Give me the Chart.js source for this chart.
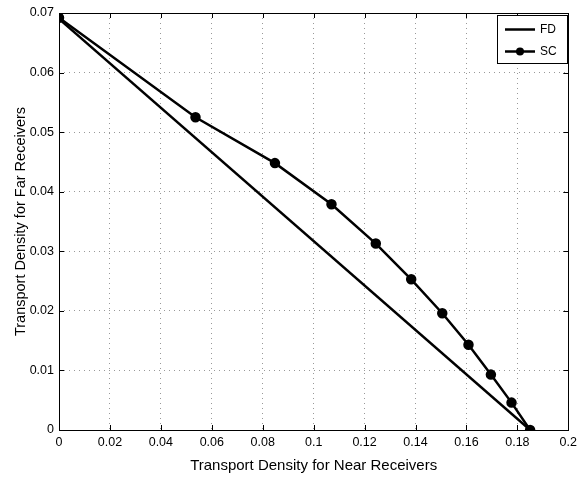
<!DOCTYPE html>
<html>
<head>
<meta charset="utf-8">
<script src="https://cdn.jsdelivr.net/npm/chart.js@4.4.1/dist/chart.umd.min.js"></script>
<style>
html,body{margin:0;padding:0;background:#fff;}
#wrap{width:582px;height:477px;}
</style>
</head>
<body>
<div id="wrap"><canvas id="c" width="582" height="477"></canvas></div>
<script>
const fdX = [0, 0.185];
const fdY = [0.069, 0];
const scX = [0, 0.0536, 0.0848, 0.107, 0.1244, 0.1383, 0.1505, 0.1608, 0.1696, 0.1777, 0.185];
const scY = [0.0692, 0.0525, 0.0448, 0.0379, 0.0313, 0.0253, 0.0196, 0.0143, 0.0093, 0.0046, 0];
const xTickLabels = ["0","0.02","0.04","0.06","0.08","0.1","0.12","0.14","0.16","0.18","0.2"];
const yTickLabels = ["0","0.01","0.02","0.03","0.04","0.05","0.06","0.07"];
const seriesNames = ["FD","SC"];
const xTitle = "Transport Density for Near Receivers";
const yTitle = "Transport Density for Far Receivers";

const FONT = "'Liberation Sans', Arial, Helvetica, sans-serif";

const toPts = (xs, ys) => xs.map((x, i) => ({x: x, y: ys[i]}));

const boxTicks = {
  id: 'boxTicks',
  afterDraw(chart) {
    const {ctx, chartArea: a, scales} = chart;
    ctx.save();
    ctx.strokeStyle = '#000';
    ctx.lineWidth = 1;
    const L = 5;
    ctx.beginPath();
    scales.x.ticks.forEach(t => {
      const px = Math.round(scales.x.getPixelForValue(t.value)) + 0.5;
      ctx.moveTo(px, a.bottom); ctx.lineTo(px, a.bottom - L);
      ctx.moveTo(px, a.top); ctx.lineTo(px, a.top + L);
    });
    scales.y.ticks.forEach(t => {
      const py = Math.round(scales.y.getPixelForValue(t.value)) + 0.5;
      ctx.moveTo(a.left, py); ctx.lineTo(a.left + L, py);
      ctx.moveTo(a.right, py); ctx.lineTo(a.right - L, py);
    });
    ctx.stroke();
    ctx.strokeRect(Math.round(a.left) + 0.5, Math.round(a.top) + 0.5, Math.round(a.right - a.left), Math.round(a.bottom - a.top));

    // legend box
    const bx = 497.5, by = 15.5, bw = 70, bh = 48;
    ctx.fillStyle = '#fff';
    ctx.fillRect(bx, by, bw, bh);
    ctx.strokeRect(bx, by, bw, bh);
    ctx.lineWidth = 2.5;
    ctx.strokeStyle = '#000';
    const rows = [29.5, 51.5];
    chart.data.datasets.forEach((ds, i) => {
      const y = rows[i];
      ctx.beginPath();
      ctx.moveTo(505, y); ctx.lineTo(535, y);
      ctx.stroke();
      if (ds.pointRadius > 0) {
        ctx.beginPath();
        ctx.arc(520, y, 4, 0, Math.PI * 2);
        ctx.fillStyle = '#000';
        ctx.fill();
      }
      ctx.fillStyle = '#000';
      ctx.font = '12px ' + FONT;
      ctx.textBaseline = 'middle';
      ctx.textAlign = 'left';
      ctx.fillText(ds.label, 540, y);
    });
    ctx.restore();
  }
};

new Chart(document.getElementById('c'), {
  type: 'scatter',
  data: {
    datasets: [
      {label: seriesNames[0], data: toPts(fdX, fdY), showLine: true, borderColor: '#000', backgroundColor: '#000', borderWidth: 2.5, pointRadius: 0, fill: false},
      {label: seriesNames[1], data: toPts(scX, scY), showLine: true, borderColor: '#000', backgroundColor: '#000', borderWidth: 2.5, pointRadius: 4, pointBackgroundColor: '#000', pointBorderColor: '#000', fill: false}
    ]
  },
  options: {
    responsive: false,
    animation: false,
    devicePixelRatio: 1,
    layout: {padding: {top: 13, right: 9, left: 0, bottom: 0}},
    plugins: {legend: {display: false}, tooltip: {enabled: false}},
    scales: {
      x: {
        type: 'linear', min: 0, max: 0.2,
        afterFit(s) { s.height = 47; },
        ticks: {stepSize: 0.02, padding: 5, color: '#000', font: {family: FONT, size: 12.5},
          callback: (v, i) => xTickLabels[i]},
        grid: {drawTicks: false, color: '#999', lineWidth: 1},
        border: {display: false, dash: [1, 4]},
        title: {display: true, text: xTitle, color: '#000', font: {family: FONT, size: 15}, padding: {top: 0, bottom: 2}}
      },
      y: {
        type: 'linear', min: 0, max: 0.07,
        afterFit(s) { s.width = 59; },
        ticks: {stepSize: 0.01, padding: 5, color: '#000', font: {family: FONT, size: 12.5},
          callback: (v, i) => yTickLabels[i]},
        grid: {drawTicks: false, color: '#999', lineWidth: 1},
        border: {display: false, dash: [1, 4]},
        title: {display: true, text: yTitle, color: '#000', font: {family: FONT, size: 14.5}, padding: {top: 12, bottom: 0}}
      }
    }
  },
  plugins: [boxTicks]
});
</script>
</body>
</html>
